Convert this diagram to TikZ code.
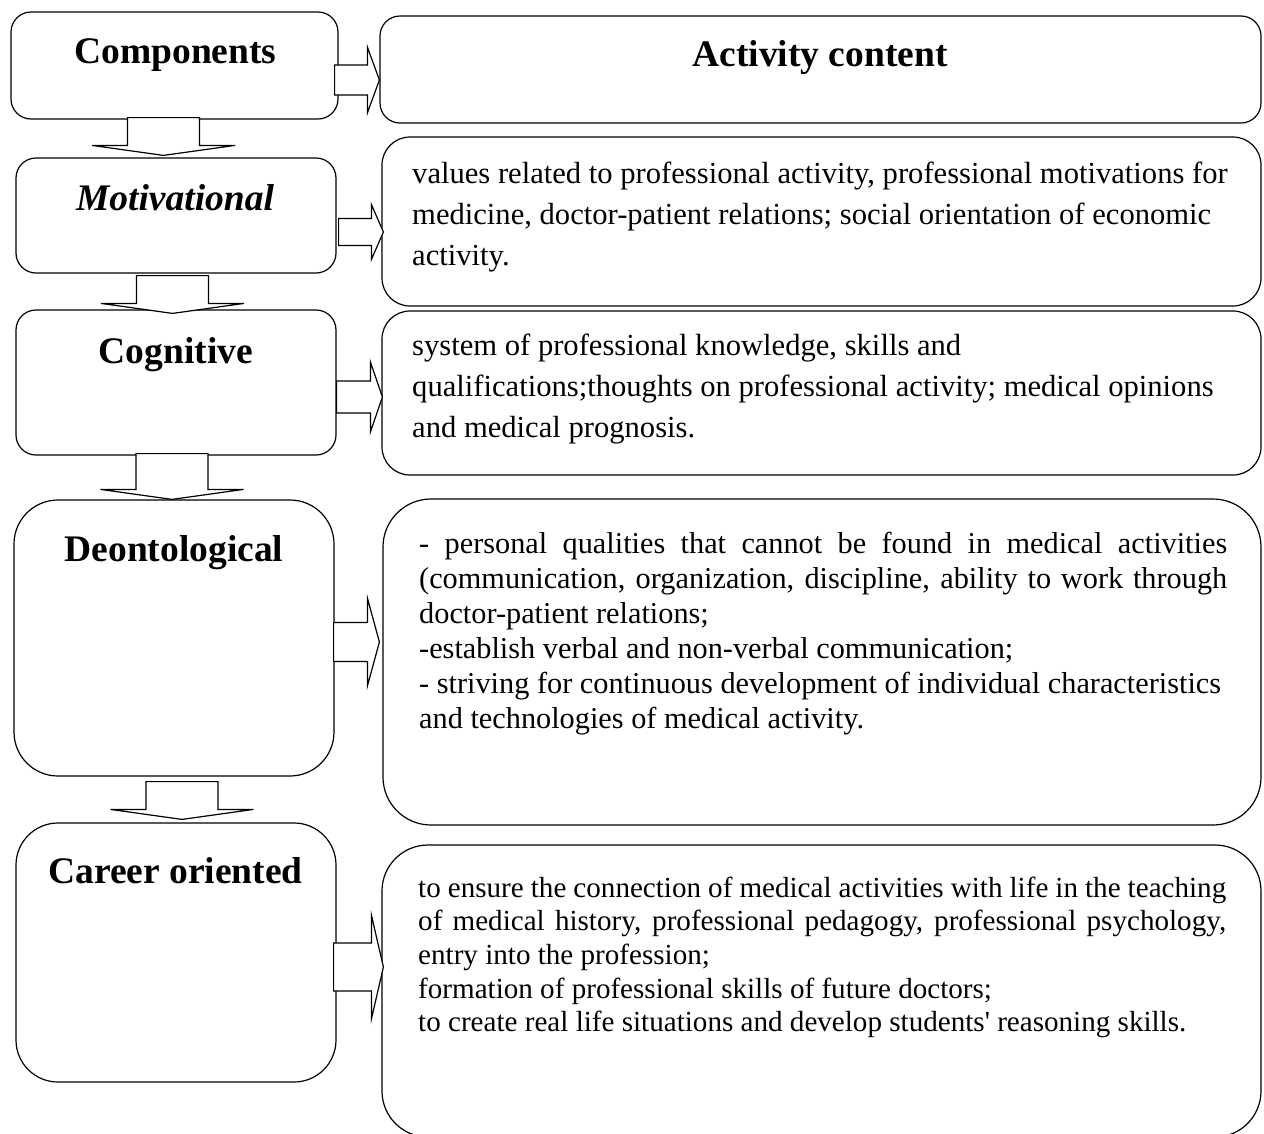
\documentclass[tikz,border=0pt]{standalone}
\usepackage{fontspec}
\setmainfont{Liberation Serif}
\usetikzlibrary{calc}
\newcommand{\DnArrow}[5]{% from, to, axis, top offset, tip offset
  \draw[blk] ($(#1.south -| #3)+(-36,#4)$) -- ($(#2.north -| #3)+(-36,#5+10)$)
    -- ($(#2.north -| #3)+(-71.5,#5+10)$) -- ($(#2.north -| #3)+(0,#5)$)
    -- ($(#2.north -| #3)+(71.5,#5+10)$) -- ($(#2.north -| #3)+(36,#5+10)$)
    -- ($(#1.south -| #3)+(36,#4)$) -- cycle;}
\newcommand{\RtArrow}[7]{% from, to, axis, shaft half, wing half, start offset, tip offset
  \draw[blk] ($(#1.east |- #3)+(#6,#4)$) -- ($(#2.west |- #3)+(#7-12,#4)$)
    -- ($(#2.west |- #3)+(#7-12,#5)$) -- ($(#2.west |- #3)+(#7,0)$)
    -- ($(#2.west |- #3)+(#7-12,-#5)$) -- ($(#2.west |- #3)+(#7-12,-#4)$)
    -- ($(#1.east |- #3)+(#6,-#4)$) -- cycle;}
\tikzset{
  box/.style={draw, line width=1.2pt, rectangle, inner sep=0pt},
  blk/.style={draw, fill=white, line width=1.2pt, line join=miter},
  hdr/.style={anchor=base, inner sep=0pt, font=\fontsize{37.5}{45}\selectfont\bfseries},
  bodytxt/.style={anchor=base west, inner sep=0pt, align=justify},
}
\begin{document}
\begin{tikzpicture}[x=1pt,y=1pt]
\useasboundingbox (0,0) rectangle (1264,-1133);
\clip (0,0) rectangle (1264,-1133);
\fill[white] (0,0) rectangle (1264,-1133);
% left column
\node[box, rounded corners=20pt, minimum width=327pt, minimum height=107pt] (comp) at (174.5,-65.5) {};
\node[box, rounded corners=20pt, minimum width=320pt, minimum height=115pt] (motiv) at (176,-215.5) {};
\node[box, rounded corners=20pt, minimum width=320pt, minimum height=145pt] (cogn) at (176,-382.5) {};
\node[box, rounded corners=44pt, minimum width=320pt, minimum height=276pt] (deont) at (174,-638) {};
\node[box, rounded corners=42pt, minimum width=320pt, minimum height=259pt] (career) at (176,-952.5) {};
% right column
\node[box, rounded corners=20pt, minimum width=881pt, minimum height=107pt] (act) at (820.5,-69.5) {};
\node[box, rounded corners=28pt, minimum width=879pt, minimum height=169pt] (motc) at (821.5,-221.5) {};
\node[box, rounded corners=28pt, minimum width=879pt, minimum height=164pt] (cogc) at (821.5,-393) {};
\node[box, rounded corners=48pt, minimum width=878pt, minimum height=326pt] (deoc) at (822,-662) {};
\node[box, rounded corners=46pt, minimum width=879pt, minimum height=292pt] (carc) at (821.5,-991) {};
% headers
\node[hdr] (compT) at (175.5,-63) {Components};
\node[hdr] (actT) at (820,-66) {Activity content};
\node[hdr] (motivT) at (175,-210) {\itshape Motivational};
\node[hdr] (cognT) at (176,-363) {Cognitive};
\node[hdr] (deontT) at (174,-561) {Deontological};
\node[hdr] (careerT) at (175.5,-883) {Career oriented};
% body texts
\node[bodytxt, text width=830pt, font=\fontsize{30.6}{41}\selectfont] (motcT) at (412,-183)
 {values related to professional activity, professional motivations for\\
  medicine, doctor-patient relations; social orientation of economic\\
  activity.};
\node[bodytxt, text width=830pt, font=\fontsize{30.6}{41}\selectfont] (cogcT) at (412,-355)
 {system of professional knowledge, skills and\\
  qualifications;thoughts on professional activity; medical opinions\\
  and medical prognosis.};
\node[bodytxt, text width=808pt, font=\fontsize{30.3}{35}\selectfont] (deocT) at (419,-553)
 {\hyphenpenalty=10000 \tolerance=10000 - personal qualities that cannot be found in medical activities\linebreak
  (communication, organization, discipline, ability to work through\linebreak
  doctor-patient relations;\\
  -establish verbal and non-verbal communication;\\
  - striving for continuous development of individual characteristics\\
  and technologies of medical activity.};
\node[bodytxt, text width=808pt, font=\fontsize{29.1}{33.7}\selectfont] (carcT) at (418,-897)
 {\hyphenpenalty=10000 \tolerance=10000 to ensure the connection of medical activities with life in the teaching\linebreak
  of medical history, professional pedagogy, professional psychology,\linebreak
  entry into the profession;\\
  formation of professional skills of future doctors;\\
  to create real life situations and develop students\textquotesingle\ reasoning skills.};
% axes
\coordinate (d1) at (163.5,0);
\coordinate (d2) at (172.5,0);
\coordinate (d3) at (172,0);
\coordinate (d4) at (182,0);
\coordinate (r1) at (0,-80);
\coordinate (r2) at (0,-232);
\coordinate (r3) at (0,-397);
\coordinate (r4) at (0,-642);
\coordinate (r5) at (0,-967);
% down arrows
\DnArrow{comp}{motiv}{d1}{2}{2}
\DnArrow{motiv}{cogn}{d2}{-2}{-4}
\DnArrow{cogn}{deont}{d3}{2}{0}
\DnArrow{deont}{career}{d4}{-5}{3}
% right arrows
\RtArrow{comp}{act}{r1}{15}{33}{-4}{0}
\RtArrow{motiv}{motc}{r2}{13.5}{27.5}{2}{2}
\RtArrow{cogn}{cogc}{r3}{16}{35}{0}{1}
\RtArrow{deont}{deoc}{r4}{19.5}{44}{-1}{-3}
\RtArrow{career}{carc}{r5}{24}{52}{-3}{2}
\end{tikzpicture}
\end{document}
